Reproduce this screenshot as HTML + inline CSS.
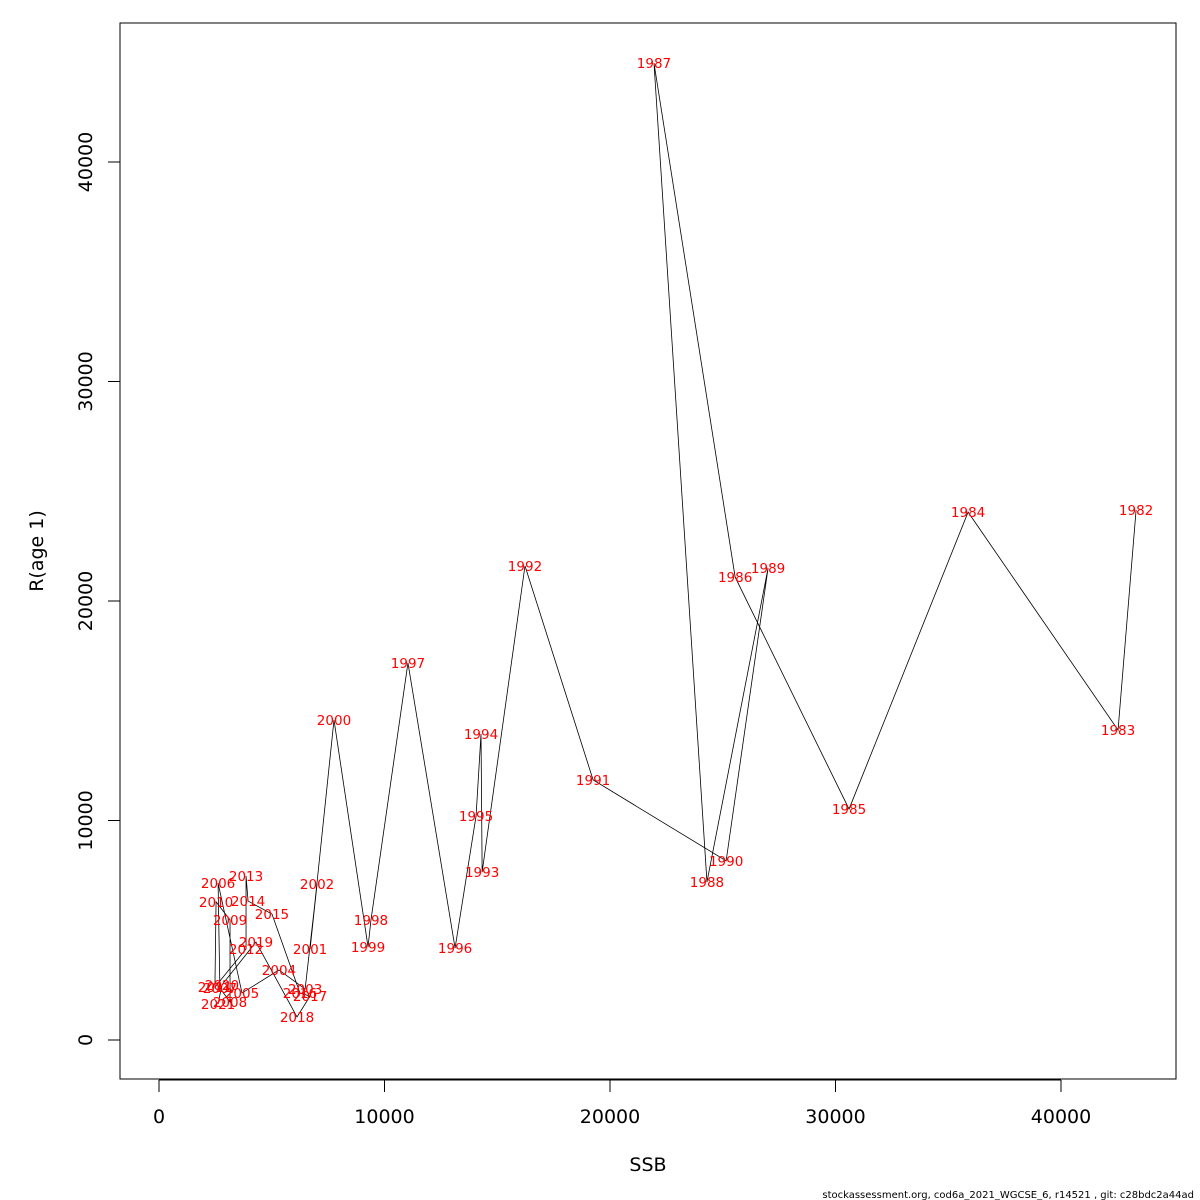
<!DOCTYPE html>
<html><head><meta charset="utf-8">
<style>
html,body{margin:0;padding:0;background:#fff;}
svg{display:block;font-family:"DejaVu Sans","Liberation Sans",sans-serif;}
</style></head>
<body>
<svg id="chart" width="1200" height="1200">
<rect x="120" y="23" width="1056" height="1056" fill="none" stroke="#000" stroke-width="1"/>
<g id="axes"></g>
<polyline id="line" fill="none" stroke="#000" stroke-width="0.8"/>
<g id="labels"></g>
<text x="648" y="1171" font-size="19" text-anchor="middle">SSB</text>
<text x="43" y="551" font-size="19" text-anchor="middle" transform="rotate(-90 43 551)">R(age 1)</text>
<text x="1194" y="1198" font-size="10" text-anchor="end">stockassessment.org, cod6a_2021_WGCSE_6, r14521 , git: c28bdc2a44ad</text>
</svg>
<script>
const years = [1982,1983,1984,1985,1986,1987,1988,1989,1990,1991,1992,1993,1994,1995,1996,1997,1998,1999,2000,2001,2002,2003,2004,2005,2006,2007,2008,2009,2010,2011,2012,2013,2014,2015,2016,2017,2018,2019,2020,2021];
const ssb = [43330,42530,35880,30600,25550,21950,24300,27010,25150,19250,16230,14330,14280,14060,13130,11040,9400,9270,7760,6700,7010,6480,5320,3680,2620,2700,3150,3150,2530,2480,3860,3860,3950,5010,6250,6700,6120,4300,2790,2620];
const rec = [24150,14120,24050,10520,21090,44510,7200,21500,8160,11850,21600,7650,13940,10200,4190,17180,5470,4240,14580,4150,7110,2320,3190,2140,7150,2370,1730,5470,6290,2410,4150,7470,6330,5740,2140,2000,1050,4460,2510,1640];
const xTicks = [0,10000,20000,30000,40000];
const yTicks = [0,10000,20000,30000,40000];

const NS="http://www.w3.org/2000/svg";
function sx(v){return 159 + v*(1061-159)/40000;}
function sy(v){return 1040 - v*(1040-162)/40000;}
const axes=document.getElementById('axes');
function mk(tag,attrs,parent){const e=document.createElementNS(NS,tag);for(const k in attrs)e.setAttribute(k,attrs[k]);parent.appendChild(e);return e;}
mk('line',{x1:sx(xTicks[0]),x2:sx(xTicks[xTicks.length-1]),y1:1080,y2:1080,stroke:'#000'},axes);
xTicks.forEach(t=>{
  const l=mk('line',{x1:sx(t),x2:sx(t),y1:1080,y2:1092,stroke:'#000'},axes);
  
  
  const tx=mk('text',{x:sx(t),y:1123,'font-size':19,'text-anchor':'middle'},axes);
  tx.textContent=t;
  
  
});
mk('line',{x1:120,x2:120,y1:sy(yTicks[0]),y2:sy(yTicks[yTicks.length-1]),stroke:'#000'},axes);
yTicks.forEach(t=>{
  const l=mk('line',{x1:108,x2:120,y1:sy(t),y2:sy(t),stroke:'#000'},axes);
  
  
  const y=sy(t);
  const tx=mk('text',{x:92,y:y,'font-size':19,'text-anchor':'middle',transform:'rotate(-90 92 '+y+')'},axes);
  tx.textContent=t;
  
  
});
document.getElementById('line').setAttribute('points',ssb.map((v,i)=>sx(v)+','+sy(rec[i])).join(' '));
const lg=document.getElementById('labels');
years.forEach((yr,i)=>{
  const tx=mk('text',{x:sx(ssb[i]),y:sy(rec[i])+5,'font-size':13.5,'text-anchor':'middle',fill:'#ff0000'},lg);
  tx.textContent=yr;
  
  
});
</script>
</body></html>
